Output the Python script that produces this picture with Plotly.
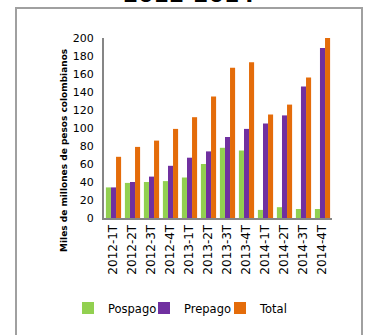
import plotly.graph_objects as go

quarters = ["2012-1T", "2012-2T", "2012-3T", "2012-4T",
            "2013-1T", "2013-2T", "2013-3T", "2013-4T",
            "2014-1T", "2014-2T", "2014-3T", "2014-4T"]
pospago = [34, 39, 40, 41, 45, 60, 78, 75, 9, 12, 10, 10]
prepago = [34, 40, 46, 58, 67, 74, 90, 99, 105, 114, 146, 189]
total = [68, 79, 86, 99, 112, 135, 167, 173, 115, 126, 156, 200]

font = "DejaVu Sans"
L, T, W, H = 104, 38, 228, 180  # plot area in px


def px(x):
    return (x - L) / W


def py(y):
    return (T + H - y) / H


fig = go.Figure()
fig.add_trace(go.Bar(x=quarters, y=pospago, name="Pospago", legend="legend",
                     marker=dict(color="#92D050", line=dict(width=0))))
fig.add_trace(go.Bar(x=quarters, y=prepago, name="Prepago", legend="legend2",
                     marker=dict(color="#7030A0", line=dict(width=0))))
fig.add_trace(go.Bar(x=quarters, y=total, name="Total", legend="legend3",
                     marker=dict(color="#E46C0A", line=dict(width=0))))

leg = dict(orientation="h", xanchor="left", y=py(308), yanchor="middle",
           font=dict(size=11.5), itemwidth=30, bgcolor="rgba(0,0,0,0)")

fig.update_layout(
    width=367, height=335,
    margin=dict(l=L, r=367 - L - W, t=T, b=335 - T - H, autoexpand=False),
    barmode="group", bargap=0.2, bargroupgap=0,
    plot_bgcolor="white", paper_bgcolor="white",
    font=dict(family=font, color="black"),
    showlegend=True,
    legend=dict(leg, x=px(68)),
    legend2=dict(leg, x=px(144)),
    legend3=dict(leg, x=px(220)),
    xaxis=dict(tickangle=-90, tickfont=dict(size=12), showline=True, linecolor="#868686",
               linewidth=2, ticks="", showgrid=False, automargin=False),
    yaxis=dict(range=[0, 200], dtick=20, tickfont=dict(size=11), showline=True,
               linecolor="#868686", linewidth=2, ticks="", showgrid=False, zeroline=False,
               ticklabelstandoff=6, automargin=False),
)

# chart border (cut off at the bottom)
fig.add_shape(type="rect", xref="paper", yref="paper",
              x0=px(16), x1=px(362), y0=py(345), y1=py(8),
              line=dict(color="#A0A0A0", width=2))

# title, cropped at the top edge
fig.add_annotation(text="<b>2012-2014</b>", xref="paper", yref="paper",
                   x=px(189), y=py(9), yanchor="bottom",
                   showarrow=False, font=dict(size=22))

fig.add_annotation(text="<b>Miles de millones de pesos colombianos</b>", textangle=-90,
                   xref="paper", yref="paper", x=px(57), y=py(151),
                   showarrow=False, font=dict(size=9))

fig.write_html("out.html", config=dict(displayModeBar=False),
               post_script="document.body.style.margin='0px';")
